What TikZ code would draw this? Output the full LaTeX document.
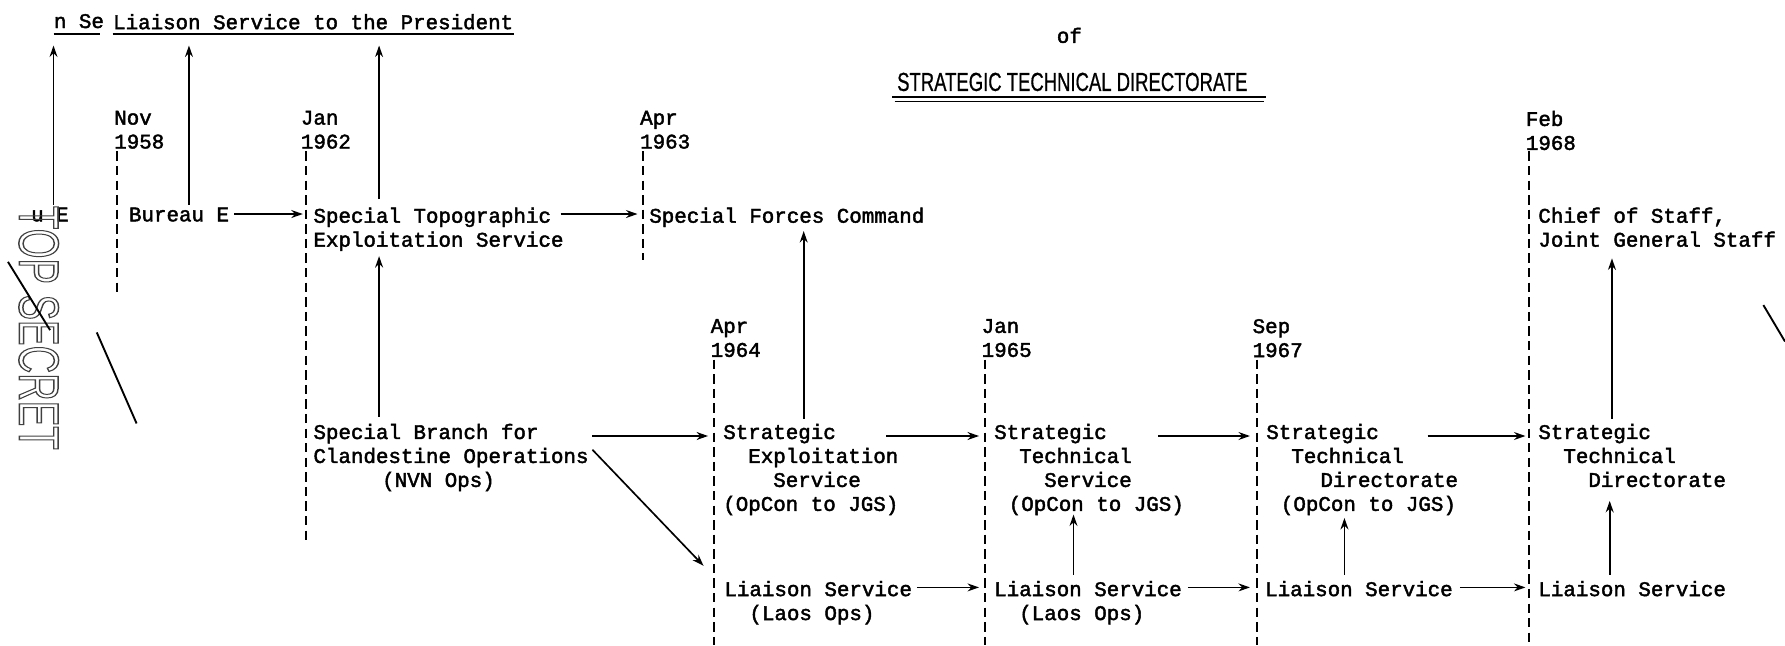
\documentclass[tikz,border=0pt]{standalone}
\usepackage{fontspec}
\usepackage{graphicx}
\newfontfamily\twfont[FakeBold=2]{Liberation Mono}
\newfontfamily\headfont[FakeBold=0.8]{Liberation Sans}
\newfontfamily\stampfont{Liberation Sans}
\usetikzlibrary{arrows.meta,calc}
\begin{document}
\begin{tikzpicture}[x=0.5464pt,y=-0.5464pt,
  tx/.style={anchor=north west,inner sep=0pt,align=left,font=\twfont\fontsize{10}{11.5}\selectfont},
  arr/.style={line width=0.8pt,-{Stealth[length=5.5pt,width=3.8pt]}},
  vline/.style={line width=0.85pt,dash pattern=on 4.5pt off 2.5pt},
  uline/.style={line width=0.75pt},
  slash/.style={line width=0.9pt}]
\useasboundingbox (0,0) rectangle (1568,567);

% header
\node[tx] (nSe) at (47,12) {n Se};
\node[tx] (lsp) at (99,12) {Liaison Service to the President};
\node[tx] (of) at (928,24) {of};
\node[anchor=center,inner sep=0pt,font=\headfont\fontsize{12.5}{14}\selectfont] (stdh) at (942,72) {\scalebox{0.71}[1]{STRATEGIC TECHNICAL DIRECTORATE}};
\draw[uline] ($(nSe.north west)+(0,18)$) -- ($(nSe.north east)+(-4,18)$);
\draw[uline] ($(lsp.north west)+(0,18)$) -- ($(lsp.north east)+(0,18)$);
\draw[line width=0.9pt] ($(stdh.south west)+(-4,5)$) -- ($(stdh.south east)+(16,5)$);
\draw[line width=0.5pt] ($(stdh.south west)+(-2,9)$) -- ($(stdh.south east)+(14,9)$);

% dates
\node[tx] (d58) at (100,97) {Nov\\1958};
\node[tx] (d62) at (264,97) {Jan\\1962};
\node[tx] (d63) at (562,97) {Apr\\1963};
\node[tx] (d68) at (1340,97) {Feb\\1968};
\node[tx] (d64) at (624,280) {Apr\\1964};
\node[tx] (d65) at (862,280) {Jan\\1965};
\node[tx] (d67) at (1100,280) {Sep\\1967};

\draw[vline] ($(d58.north west)+(3,36)$) -- +(0,125);
\draw[vline] ($(d62.north west)+(5,36)$) -- +(0,345);
\draw[vline] ($(d63.north west)+(3,36)$) -- +(0,95);
\draw[vline] ($(d68.north west)+(3,36)$) -- +(0,434);
\draw[vline] ($(d64.north west)+(3,36)$) -- +(0,251);
\draw[vline] ($(d65.north west)+(3,36)$) -- +(0,251);
\draw[vline] ($(d67.north west)+(4,36)$) -- +(0,251);

% top row
\node[tx] (bu0) at (27,182) {u E};
\node[tx] (bue) at (113,182) {Bureau E};
\node[tx] (stes) at (275,182) {Special Topographic\\Exploitation Service};
\node[tx] (sfc) at (570,182) {Special Forces Command};
\node[tx] (cos) at (1351,182) {Chief of Staff,\\Joint General Staff};

% middle row
\node[tx] (sbco) at (275,372) {Special Branch for\\Clandestine Operations\\\hspace*{33pt}(NVN Ops)};
\node[tx] (ses) at (635,372) {Strategic\\\hspace*{12pt}Exploitation\\\hspace*{24pt}Service\\(OpCon to JGS)};
\node[tx] (sts) at (873,372) {Strategic\\\hspace*{12pt}Technical\\\hspace*{24pt}Service\\\hspace*{7pt}(OpCon to JGS)};
\node[tx] (std67) at (1112,372) {Strategic\\\hspace*{12pt}Technical\\\hspace*{26pt}Directorate\\\hspace*{7pt}(OpCon to JGS)};
\node[tx] (std68) at (1351,372) {Strategic\\\hspace*{12pt}Technical\\\hspace*{24pt}Directorate};

% bottom row
\node[tx] (ls64) at (636,510) {Liaison Service\\\hspace*{12pt}(Laos Ops)};
\node[tx] (ls65) at (873,510) {Liaison Service\\\hspace*{12pt}(Laos Ops)};
\node[tx] (ls67) at (1111,510) {Liaison Service};
\node[tx] (ls68) at (1351,510) {Liaison Service};

% upward arrows to the President
\draw[arr] ($(bu0.north west)+(20,-2)$) -- ($(nSe.north west)+(0,28)$);
\draw[arr] ($(bue.north west)+(53,-2)$) -- ($(lsp.north west)+(67,28)$);
\draw[arr] ($(stes.north west)+(58,-7)$) -- ($(lsp.north west)+(234,28)$);

% other upward arrows
\draw[arr] ($(sbco.north west)+(58,-6)$) -- ($(stes.north west)+(58,43)$);
\draw[arr] ($(ses.north west)+(71,-4)$) -- ($(sfc.north west)+(136,21)$);
\draw[arr] ($(std68.north west)+(65,-4)$) -- ($(cos.north west)+(65,45)$);
\draw[arr] ($(ls65.north west)+(70,-5)$) -- ($(sts.north west)+(70,80)$);
\draw[arr] ($(ls67.north west)+(70,-5)$) -- ($(std67.north west)+(69,83)$);
\draw[arr] ($(ls68.north west)+(63,-5)$) -- ($(std68.north west)+(63,68)$);

% horizontal arrows
\draw[arr] ($(bue.north east)+(4,6)$) -- ($(stes.north west)+(-9,6)$);
\draw[arr] ($(stes.north east)+(-3,6)$) -- ($(sfc.north west)+(-10,6)$);
\draw[arr] ($(sbco.north east)+(3,11)$) -- ($(ses.north west)+(-13,11)$);
\draw[arr] ($(sbco.north east)+(3,23)$) -- ($(ls64.north west)+(-18,-13)$);
\draw[arr] ($(ses.north east)+(-11,11)$) -- ($(sts.north west)+(-13,11)$);
\draw[arr] ($(sts.north east)+(-23,11)$) -- ($(std67.north west)+(-14,11)$);
\draw[arr] ($(std67.north east)+(-27,11)$) -- ($(std68.north west)+(-11,11)$);
\draw[arr] ($(ls64.north east)+(4,6)$) -- ($(ls65.north west)+(-13,6)$);
\draw[arr] ($(ls65.north east)+(5,6)$) -- ($(ls67.north west)+(-13,6)$);
\draw[arr] ($(ls67.north east)+(6,6)$) -- ($(ls68.north west)+(-11,6)$);

% stamp
\node[rotate=-90,inner sep=0pt,text=black!75,font=\stampfont\fontsize{27}{27}\selectfont] (stamp) at (34,288) {\special{pdf:literal direct 1 Tr 0.7 w}\scalebox{0.68}[1]{TOP SECRET}\special{pdf:literal direct 0 Tr}};
\draw[slash] (7,230) -- (44,290);
\draw[slash] (85,292) -- (120,372);
\draw[slash] (1549,268) -- (1568,300);
\end{tikzpicture}
\end{document}
